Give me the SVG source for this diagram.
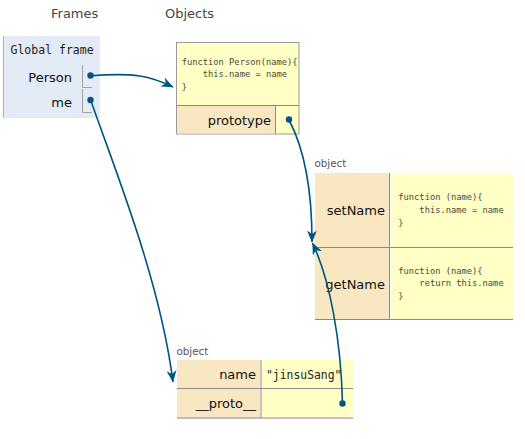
<svg xmlns="http://www.w3.org/2000/svg" width="525" height="439" viewBox="0 0 525 439">
<defs>
<style>
.hdr{font-family:"DejaVu Sans",Verdana,sans-serif;font-size:13px;fill:#444}
.lbl{font-family:"DejaVu Sans",Verdana,sans-serif;font-size:13px;fill:#111}
.mono{font-family:"DejaVu Sans Mono","Liberation Mono",monospace;font-size:11.4px;fill:#222}
.code{font-family:"DejaVu Sans Mono","Liberation Mono",monospace;font-size:8.75px;fill:#4a4a3a;white-space:pre}
.type{font-family:"DejaVu Sans",Verdana,sans-serif;font-size:10.3px;fill:#555}
.key{fill:#f8e7c0}
.val{fill:#ffffc6}
.sep{stroke:#8a8a8a;stroke-width:1;fill:none}
.tick{stroke:#a0a0a0;stroke-width:1;fill:none}
.dot{fill:#005583}
.link{stroke:#005583;stroke-width:1.6;fill:none;marker-end:url(#arr)}
</style>
<marker id="arr" viewBox="0 0 12 10" refX="11.5" refY="5" markerWidth="12" markerHeight="10" markerUnits="userSpaceOnUse" orient="auto">
<path d="M0,0 L12,5 L0,10 L3.5,5 z" fill="#005583"/>
</marker>
</defs>
<rect width="525" height="439" fill="#ffffff"/>

<g id="headers">
<text class="hdr" x="51" y="18">Frames</text>
<text class="hdr" x="165" y="18">Objects</text>
</g>

<g id="global-frame">
<rect x="3" y="36" width="97" height="82" fill="#e2ebf6"/>
<line x1="3.5" y1="36" x2="3.5" y2="118" stroke="#a6b3b6" stroke-width="1"/>
<text x="10.5" y="54" style="font-family:'DejaVu Sans Mono',monospace;font-size:11.5px;fill:#222">Global frame</text>
<text class="lbl" x="72" y="82" text-anchor="end">Person</text>
<text class="lbl" x="72" y="106.5" text-anchor="end">me</text>
<path class="tick" d="M82.5,65 V87.5 H92"/>
<path class="tick" d="M82.5,89 V112.5 H92"/>
<circle class="dot" cx="90.5" cy="75.5" r="3.2"/>
<circle class="dot" cx="90.5" cy="100" r="3.2"/>
</g>

<g id="person-function">
<rect x="176.5" y="42.5" width="122.5" height="91.5" class="val" stroke="#999" stroke-width="1"/>
<rect x="177" y="105.5" width="98" height="28" class="key"/>
<line class="sep" x1="176.5" y1="105.5" x2="299" y2="105.5"/>
<line class="sep" x1="275.5" y1="105.5" x2="275.5" y2="134"/>
<text class="code" x="181.7" y="64.5">function Person(name){</text>
<text class="code" x="181.7" y="77.3">    this.name = name</text>
<text class="code" x="181.7" y="90">}</text>
<text class="lbl" x="271" y="125" text-anchor="end">prototype</text>
<circle class="dot" cx="289" cy="119.5" r="3.2"/>
</g>

<g id="prototype-object">
<text class="type" x="314.5" y="167">object</text>
<rect x="315" y="173" width="74" height="147" class="key"/>
<rect x="391" y="173" width="122" height="147" class="val"/>
<line class="sep" x1="389.5" y1="173" x2="389.5" y2="320"/>
<line class="sep" x1="315" y1="247.5" x2="513" y2="247.5"/>
<line class="sep" x1="315" y1="319.5" x2="513" y2="319.5"/>
<text class="lbl" x="385" y="214.5" text-anchor="end">setName</text>
<text class="code" x="398.3" y="200">function (name){</text>
<text class="code" x="398.3" y="212.8">    this.name = name</text>
<text class="code" x="398.3" y="225.6">}</text>
<text class="lbl" x="385" y="288.5" text-anchor="end">getName</text>
<text class="code" x="398.3" y="273.5">function (name){</text>
<text class="code" x="398.3" y="286.3">    return this.name</text>
<text class="code" x="398.3" y="299.1">}</text>
</g>

<g id="me-object">
<text class="type" x="176.5" y="355">object</text>
<rect x="177" y="360" width="83" height="58" class="key"/>
<rect x="262" y="360" width="91" height="58" class="val"/>
<line class="sep" x1="261" y1="360" x2="261" y2="418.5"/>
<line class="sep" x1="177" y1="388.5" x2="353" y2="388.5"/>
<line class="sep" x1="177" y1="418" x2="353" y2="418"/>
<text class="lbl" x="256" y="378.5" text-anchor="end">name</text>
<text class="mono" x="266" y="378.5">"jinsuSang"</text>
<text class="lbl" x="256" y="408" text-anchor="end">__proto__</text>
<circle class="dot" cx="342.5" cy="403.5" r="3.2"/>
</g>

<g id="connectors">
<path class="link" d="M91,75.7 C135,72.5 150,76 173,87"/>
<path class="link" d="M289,120 C305,150 312,190 312,242"/>
<path class="link" d="M342.5,403.5 C341,340 330,280 312.5,243"/>
<path class="link" d="M91,101 C115,170 160,280 173,382"/>
</g>
</svg>
